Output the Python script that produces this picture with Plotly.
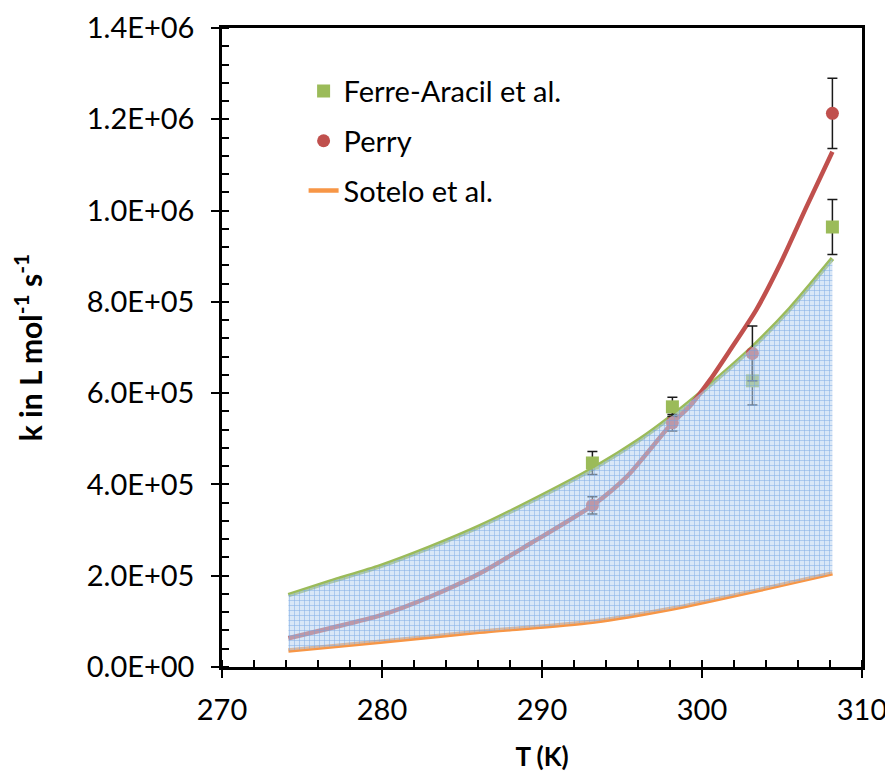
import plotly.graph_objects as go

# Experimental points
T_exp = [293.15, 298.15, 303.15, 308.15]
k_ferre = [4.47e5, 5.70e5, 6.27e5, 9.64e5]
err_ferre = [2.5e4, 2.1e4, 5.3e4, 6.0e4]
k_perry = [3.54e5, 5.35e5, 6.87e5, 1.213e6]
err_perry = [1.9e4, 1.8e4, 6.0e4, 7.7e4]

# Fitted curves
T_fit_ferre = [274.15, 276.75, 279.9, 283.0, 286.1, 289.25, 293.2, 296.1, 298.2, 300.3, 303.2, 305.5, 308.15]
k_fit_ferre = [1.577e5, 1.87e5, 2.21e5, 2.62e5, 3.08e5, 3.62e5, 4.35e5, 4.98e5, 5.52e5, 6.12e5, 7.02e5, 7.85e5, 8.95e5]

T_fit_perry = [274.15, 276.75, 279.9, 283.0, 286.1, 289.25, 293.2, 295.3, 298.15, 299.25, 300.5, 301.75, 303.4, 304.9, 306.5, 308.15]
k_fit_perry = [6.3e4, 8.5e4, 1.13e5, 1.54e5, 2.05e5, 2.70e5, 3.55e5, 4.17e5, 5.35e5, 5.72e5, 6.29e5, 6.94e5, 7.83e5, 8.84e5, 1.006e6, 1.129e6]

T_sotelo = [274.15, 279.9, 286.1, 293.15, 298.15, 303.6, 308.15]
k_sotelo = [3.6e4, 5.55e4, 7.7e4, 9.9e4, 1.28e5, 1.69e5, 2.05e5]

y_tickvals = [0, 2e5, 4e5, 6e5, 8e5, 1.0e6, 1.2e6, 1.4e6]
y_ticktext = ["0.0E+00", "2.0E+05", "4.0E+05", "6.0E+05", "8.0E+05", "1.0E+06", "1.2E+06", "1.4E+06"]
x_tickvals = [270, 280, 290, 300, 310]

GREEN = "#9bbb59"
RED = "#c0504d"
ORANGE = "#f79646"
FONT = "Lato, Carlito, 'Open Sans', sans-serif"
LW = 4.5
SM = 0.7

fig = go.Figure()

fig.add_trace(go.Scatter(x=T_fit_ferre, y=k_fit_ferre, mode="lines",
                         line=dict(color=GREEN, width=LW, shape="spline", smoothing=SM),
                         showlegend=False, hoverinfo="skip"))
fig.add_trace(go.Scatter(x=T_fit_perry, y=k_fit_perry, mode="lines",
                         line=dict(color=RED, width=LW, shape="spline", smoothing=SM),
                         showlegend=False, hoverinfo="skip"))
fig.add_trace(go.Scatter(x=T_exp, y=k_ferre, mode="markers", name="Ferre-Aracil et al.",
                         marker=dict(symbol="square", color=GREEN, size=13),
                         error_y=dict(type="data", array=err_ferre, color="#1a1a1a", thickness=1.5, width=5),
                         legendgroup="a"))
fig.add_trace(go.Scatter(x=T_exp, y=k_perry, mode="markers", name="Perry",
                         marker=dict(symbol="circle", color=RED, size=13),
                         error_y=dict(type="data", array=err_perry, color="#1a1a1a", thickness=1.5, width=5),
                         legendgroup="b"))
fig.add_trace(go.Scatter(x=T_sotelo, y=k_sotelo, mode="lines", name="Sotelo et al.",
                         line=dict(color=ORANGE, width=LW, shape="spline", smoothing=SM),
                         legendgroup="c"))
# shaded region (drawn on top, semi transparent grid pattern)
fig.add_trace(go.Scatter(x=T_sotelo, y=k_sotelo, mode="lines",
                         line=dict(width=0, shape="spline", smoothing=SM),
                         showlegend=False, hoverinfo="skip"))
fig.add_trace(go.Scatter(x=T_fit_ferre, y=k_fit_ferre, mode="lines",
                         line=dict(width=0, shape="spline", smoothing=SM),
                         fill="tonexty",
                         fillcolor="rgba(185,210,240,0.55)",
                         fillpattern=dict(shape="+", size=5, solidity=0.22,
                                          bgcolor="rgba(185,210,240,0.55)",
                                          fgcolor="rgba(110,160,225,1)", fgopacity=0.75),
                         showlegend=False, hoverinfo="skip"))

axis_common = dict(showgrid=False, zeroline=False, linecolor="black", linewidth=2.5, automargin=False,
                   tickcolor="black", tickwidth=2, ticklabeloverflow="allow",
                   tickfont=dict(family=FONT, size=29, color="black"))

# page body has an 8px margin, so the figure is offset by (8, 8)
fig.update_layout(
    width=885, height=764,
    margin=dict(l=214, r=31, t=20, b=105),
    paper_bgcolor="white", plot_bgcolor="white",
    font=dict(family=FONT, color="black"),
    xaxis=dict(range=[270, 310], tickvals=x_tickvals, ticks="outside", ticklen=8,
               mirror=True, ticklabelstandoff=7,
               minor=dict(dtick=2, ticks="inside", ticklen=7, tickcolor="black", tickwidth=1.5),
               title=dict(text="<b>T (K)</b>", font=dict(family=FONT, size=26), standoff=24),
               **axis_common),
    yaxis=dict(range=[0, 1.4e6], tickvals=y_tickvals, ticktext=y_ticktext, ticks="outside", ticklen=8,
               mirror=True, ticklabelstandoff=11,
               minor=dict(dtick=4e4, ticks="inside", ticklen=7, tickcolor="black", tickwidth=1.5),
               title=dict(text="<b>k in L mol<sup>-1</sup> s<sup>-1</sup></b>", font=dict(family=FONT, size=30), standoff=40),
               **axis_common),
    xaxis2=dict(range=[270, 310], overlaying="x", anchor="y", side="bottom", tickvals=x_tickvals,
                ticks="inside", ticklen=8, tickwidth=2, tickcolor="black", showticklabels=False,
                showgrid=False, zeroline=False, showline=False, automargin=False),
    yaxis2=dict(range=[0, 1.4e6], overlaying="y", anchor="x", side="left", tickvals=y_tickvals,
                ticks="inside", ticklen=8, tickwidth=2, tickcolor="black", showticklabels=False,
                showgrid=False, zeroline=False, showline=False, automargin=False),
    legend=dict(x=0.1275, y=0.941, xanchor="left", yanchor="top", bgcolor="rgba(0,0,0,0)",
                font=dict(family=FONT, size=29, color="black"), traceorder="grouped",
                tracegroupgap=9, itemwidth=30),
    showlegend=True,
)

fig.write_html("out.html")
